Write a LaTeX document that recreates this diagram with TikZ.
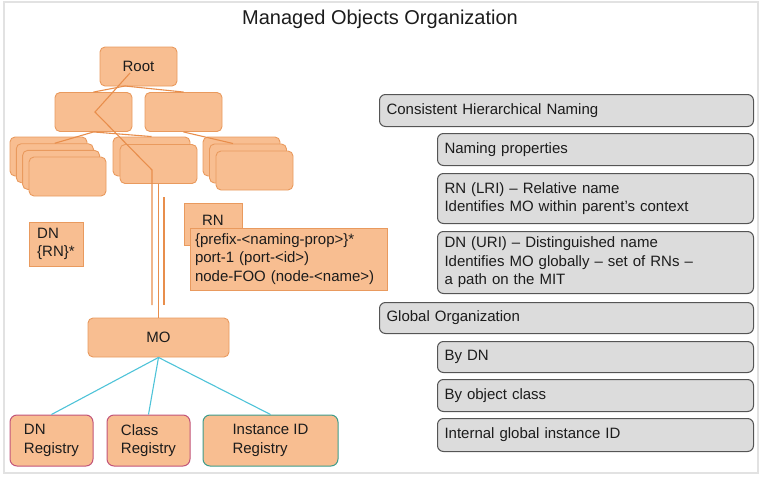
\documentclass[tikz,border=0pt]{standalone}
\usepackage{fontspec}
\setsansfont{Liberation Sans}

\definecolor{ofill}{HTML}{F8BE91}
\definecolor{oline}{HTML}{E99A5E}
\definecolor{olink}{HTML}{E88E4C}
\definecolor{gfill}{HTML}{DCDCDC}
\definecolor{gline}{HTML}{555555}
\definecolor{cyanlink}{HTML}{4EC3D8}
\definecolor{pinkline}{HTML}{C2557A}
\definecolor{tealline}{HTML}{3E9C8B}
\definecolor{framec}{HTML}{E2E2E2}
\definecolor{txt}{HTML}{1C1C1C}

\tikzset{
  obox/.style={draw=oline, fill=ofill, line width=0.9pt, rounded corners=5pt,
    minimum width=77pt, minimum height=39pt, inner sep=0pt},
  sqbox/.style={draw=oline, fill=ofill, line width=0.9pt, inner sep=0pt},
  regbox/.style={fill=ofill, line width=1pt, rounded corners=7pt,
    minimum height=51pt, align=left, inner sep=0pt},
  gbox/.style={draw=gline, fill=gfill, line width=1pt, rounded corners=6pt,
    anchor=north west, align=left, inner xsep=7pt, inner ysep=0pt},
  tree/.style={draw=olink, line width=1.1pt},
  reglink/.style={draw=cyanlink, line width=1.1pt}
}

\begin{document}
\begin{tikzpicture}[x=1pt, y=-1pt, font=\sffamily\fontsize{15}{18.5}\selectfont, text=txt]
  \useasboundingbox (0,0) rectangle (766,479);
  \draw[framec, line width=1.5pt] (4,2) rectangle (758,473);

  \node at (380,19) {\fontsize{20}{24}\selectfont Managed Objects Organization};

  % tree of objects
  \node[obox] (root) at (138.5,66.5) {Root};
  \node[obox] (l2a) at (93.5,112) {};
  \node[obox] (l2b) at (183.5,112) {};

  \node[obox] (ls0) at (48.5,156.5) {};
  \node[obox] (ls1) at (54.8,163.2) {};
  \node[obox] (ls2) at (61.1,169.9) {};
  \node[obox] (ls3) at (67.5,176.5) {};

  \node[obox] (ms0) at (151.5,156.5) {};
  \node[obox] (ms1) at (158.5,164) {};

  \node[obox] (rs0) at (241.5,156.5) {};
  \node[obox] (rs1) at (248,163.5) {};
  \node[obox] (rs2) at (254.5,170.5) {};

  \coordinate (rootfoot) at (125,86);
  \coordinate (rsjoin) at (233,143.5);
  \draw[tree] (rootfoot) -- (l2a.north);
  \draw[tree] (rootfoot) -- (l2b.north);
  \draw[tree] (l2a.south) -- (ls1.north);
  \draw[tree] (l2a.south) -- (ms0.north);
  \draw[tree] (l2b.south) -- (rsjoin);

  % naming labels
  \node[sqbox, minimum width=54pt, minimum height=44pt, align=left] (dn) at (56,244) {DN\\\{RN\}*};
  \node[sqbox, minimum width=58pt, minimum height=42pt] (rn) at (213,224) {\raisebox{8pt}{RN}};
  \node[sqbox, minimum height=62pt, text width=187pt, inner xsep=5pt, align=left] (rnform) at (288.5,259)
    {\{prefix-<naming-prop>\}*\\port-1 (port-<id>)\\node-FOO (node-<name>)};

  % path down to the MO
  \node[obox, minimum width=141pt] (mo) at (158.5,337.5) {MO};
  \coordinate (diagtop) at (130,73);
  \coordinate (diagbend) at (95,112);
  \coordinate (diagknee) at (152,170);
  \coordinate (diagend) at (152,305);
  \draw[tree] (diagtop) -- (diagbend) -- (diagknee) -- (diagend);
  \draw[tree] (ms1.south) -- (mo.north);
  \coordinate (rnlinetop) at (164,197);
  \coordinate (rnlineend) at (164,305);
  \draw[tree] (rnlinetop) -- (rnlineend);

  % registries
  \node[regbox, draw=pinkline, minimum width=83pt] (dnreg) at (51.5,440.5) {DN\\Registry};
  \node[regbox, draw=pinkline, minimum width=83pt] (classreg) at (148.5,440.5) {Class\\Registry};
  \node[regbox, draw=tealline, minimum width=135pt] (idreg) at (270.5,440.5) {Instance ID\\Registry};
  \draw[reglink] (mo.south) -- (dnreg.north);
  \draw[reglink] (mo.south) -- (classreg.north);
  \draw[reglink] (mo.south) -- (idreg.north);

  % right hand list
  \node[gbox, text width=360pt, minimum height=32pt] (chn) at (379,94) {Consistent Hierarchical Naming};
  \node[gbox, text width=302pt, minimum height=32pt] (np) at (437,133) {Naming properties};
  \node[gbox, text width=302pt, minimum height=50pt] (rnl) at (437,173)
    {RN (LRI) -- Relative name\\Identifies MO within parent’s context};
  \node[gbox, text width=302pt, minimum height=62pt] (dnu) at (437,231)
    {DN (URI) -- Distinguished name\\Identifies MO globally -- set of RNs --\\a path on the MIT};
  \node[gbox, text width=360pt, minimum height=31pt] (go) at (379,302) {Global Organization};
  \node[gbox, text width=302pt, minimum height=31pt] (bydn) at (437,341) {By DN};
  \node[gbox, text width=302pt, minimum height=32pt] (byoc) at (437,379) {By object class};
  \node[gbox, text width=302pt, minimum height=33pt] (iid) at (437,418) {Internal global instance ID};
\end{tikzpicture}
\end{document}
